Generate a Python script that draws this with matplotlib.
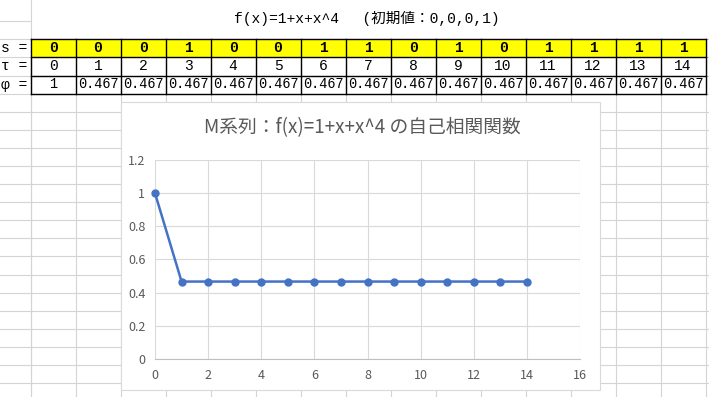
import matplotlib
matplotlib.use('Agg')
import matplotlib.pyplot as plt
from matplotlib.patches import Rectangle
from matplotlib.ticker import FuncFormatter, MultipleLocator

# data
tau = [0, 1, 2, 3, 4, 5, 6, 7, 8, 9, 10, 11, 12, 13, 14]
s_bits = [0, 0, 0, 1, 0, 0, 1, 1, 0, 1, 0, 1, 1, 1, 1]
phi = [1, 0.467, 0.467, 0.467, 0.467, 0.467, 0.467, 0.467,
       0.467, 0.467, 0.467, 0.467, 0.467, 0.467, 0.467]
row_labels = ['s =', 'τ =', 'φ =']
sheet_title = 'f(x)=1+x+x^4　 (初期値：0,0,0,1)'
chart_title = 'M系列：f(x)=1+x+x^4 の自己相関関数'

mono = ['Liberation Mono', 'Noto Sans CJK JP']
sans = ['Noto Sans CJK JP', 'DejaVu Sans']

W, H = 709, 397
fig = plt.figure(figsize=(7.09, 3.97), dpi=100)
sheet = fig.add_axes([0, 0, 1, 1])
sheet.set_xlim(0, W)
sheet.set_ylim(H, 0)
sheet.axis('off')

grid_c = '#d4d4d4'
col_w = 45
x0 = 30.5
col_x = [x0 + col_w * k for k in range(16)]
row_y = [39, 57, 75.5, 93.5]
rows_below = [93.5 + 18.1 * k for k in range(1, 18)]

# spreadsheet grid
sheet.plot([x0, x0], [0, H], color=grid_c, lw=0.8, zorder=0)
sheet.plot([0, x0], [21, 21], color=grid_c, lw=0.8, zorder=0)
for y in row_y + rows_below:
    sheet.plot([0, W], [y, y], color=grid_c, lw=0.8, zorder=0)
for x in col_x:
    sheet.plot([x, x], [39, H], color=grid_c, lw=0.8, zorder=0)

# table: yellow row + black borders
sheet.add_patch(Rectangle((x0, row_y[0]), col_w * 15, row_y[1] - row_y[0],
                          facecolor='#ffff00', edgecolor='none', zorder=1))
for y in row_y:
    sheet.plot([x0, col_x[-1]], [y, y], color='black', lw=1.0, zorder=2)
for x in col_x:
    sheet.plot([x, x], [row_y[0], row_y[-1]], color='black', lw=1.0, zorder=2)

sheet.text(367, 18, sheet_title, ha='center', va='center', fontsize=10.5,
           family=mono, zorder=3)

for r, lab in enumerate(row_labels):
    yc = (row_y[r] + row_y[r + 1]) / 2
    sheet.text(27, yc, lab, ha='right', va='center', fontsize=10.5,
               family=mono, zorder=3)

for k in range(len(tau)):
    cx = col_x[k] + col_w / 2
    sheet.text(cx, (row_y[0] + row_y[1]) / 2, str(s_bits[k]), ha='center',
               va='center', fontsize=10.5, family=mono, weight='bold', zorder=3)
    sheet.text(cx, (row_y[1] + row_y[2]) / 2, str(tau[k]), ha='center',
               va='center', fontsize=10.5, family=mono, zorder=3)
    sheet.text(cx, (row_y[2] + row_y[3]) / 2, '{:g}'.format(phi[k]),
               ha='center', va='center', fontsize=9.8, family=mono, zorder=3)

# chart box
sheet.add_patch(Rectangle((120.5, 102), 479, 288, facecolor='white',
                          edgecolor='#d9d9d9', lw=0.8, zorder=4))
fig.text(362 / W, 1 - 128 / H, chart_title, ha='center', va='center',
         fontsize=13.5, color='#595959', family=sans)

ax = fig.add_axes([155 / W, 1 - 359 / H, 425 / W, 199 / H])
ax.set_facecolor('none')
ax.plot(tau, phi, color='#4472c4', lw=1.8, marker='o', ms=5, zorder=3,
        clip_on=False)
ax.set_xlim(0, 16)
ax.set_ylim(0, 1.2)
ax.xaxis.set_major_locator(MultipleLocator(2))
ax.yaxis.set_major_locator(MultipleLocator(0.2))
ax.yaxis.set_major_formatter(FuncFormatter(lambda v, p: '{:g}'.format(round(v, 1))))
ax.grid(True, color='#d9d9d9', lw=0.8)
ax.set_axisbelow(True)
for side in ['top', 'right', 'left']:
    ax.spines[side].set_visible(False)
ax.spines['bottom'].set_color('#bfbfbf')
ax.spines['bottom'].set_linewidth(0.8)
ax.tick_params(length=0, labelsize=9, colors='#595959')
ax.tick_params(axis='y', pad=7)
ax.tick_params(axis='x', pad=7)
for lab in ax.get_xticklabels() + ax.get_yticklabels():
    lab.set_family(sans)

fig.savefig('out.png', dpi=100)
